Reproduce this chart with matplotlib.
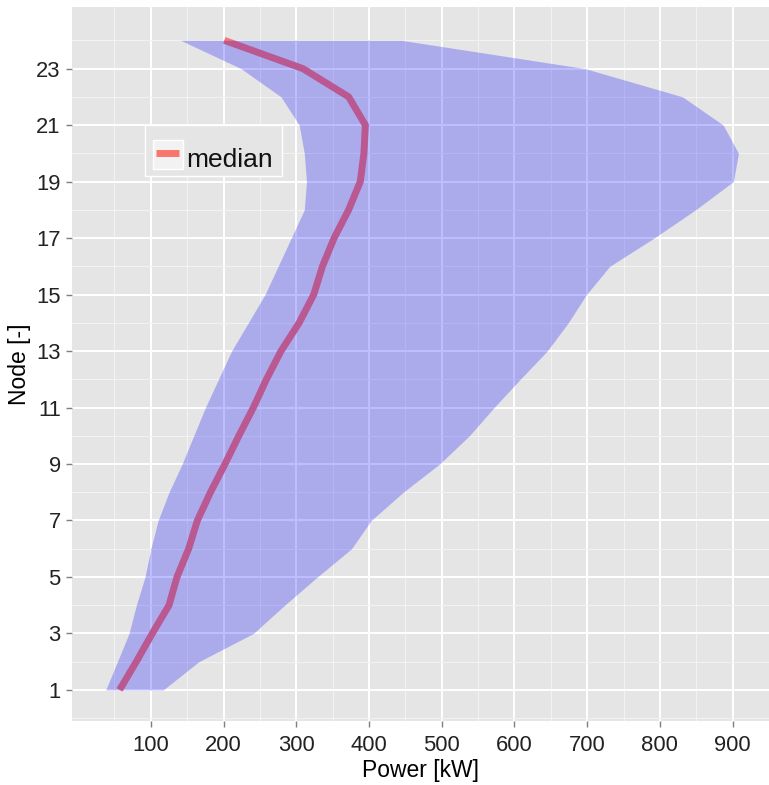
import numpy as np
import matplotlib
matplotlib.use("Agg")
import matplotlib.pyplot as plt
from matplotlib.patches import Rectangle
from matplotlib.lines import Line2D

plt.rcParams['font.family'] = ['Liberation Sans', 'DejaVu Sans']

# power per node [kW]
node = list(range(1, 25))
p_low = [38, 54, 70, 80, 92, 100, 110, 125, 143, 159, 175, 193,
         211, 234, 257, 275, 293, 311, 314, 311, 304, 279, 224, 141]
p_high = [117, 166, 241, 284, 329, 376, 403, 447, 497, 538, 572, 608,
          645, 674, 699, 731, 792, 849, 901, 908, 887, 831, 697, 445]
p_median = [57, 80, 102, 125, 136, 152, 164, 182, 202, 221, 241, 259,
            279, 304, 324, 336, 352, 372, 388, 393, 395, 372, 309, 201]

x_ticks = list(range(100, 1000, 100))
y_ticks = list(range(1, 24, 2))

fig = plt.figure(figsize=(7.69, 7.85), dpi=100)
ax = fig.add_axes([0.094, 0.0815, 0.906, 0.9092])
ax.set_facecolor('#E5E5E5')
for s in ax.spines.values():
    s.set_visible(False)

# median first, ribbon on top of it
ax.plot(p_median, node, color='#F8766D', lw=5, solid_capstyle='butt', zorder=2)
ax.fill_betweenx(node, p_low, p_high, color='blue', alpha=0.25, lw=0, zorder=3)

ax.set_xlim(-8, 940)
ax.set_ylim(-0.1, 25.17)
ax.set_xticks(x_ticks)
ax.set_yticks(y_ticks)
ax.set_xticks(np.arange(50, 1000, 100), minor=True)
ax.set_yticks(np.arange(0, 26, 2), minor=True)
ax.set_axisbelow(True)
ax.grid(which='major', color='white', lw=1.4)
ax.grid(which='minor', color='#F2F2F2', lw=0.8)
ax.tick_params(which='major', length=4.3, width=1, color='#7F7F7F',
               labelsize=15.8, labelcolor='#222222', pad=4)
ax.tick_params(axis='x', pad=6)
ax.tick_params(which='minor', length=0)

ax.set_xlabel('Power [kW]', fontsize=16.5, labelpad=2)
ax.set_ylabel('Node [-]', fontsize=16.5, labelpad=4)

# legend box
tr = ax.transAxes
ax.add_patch(Rectangle((0.1043, 0.764), 0.196, 0.071, transform=tr,
                       fc='#E5E5E5', ec='white', lw=1, zorder=5))
ax.add_patch(Rectangle((0.1163, 0.7734), 0.043, 0.0407, transform=tr,
                       fc='#F2F2F2', ec='white', lw=1, zorder=6))
ax.add_line(Line2D([0.1197, 0.1536], [0.7963, 0.7963], transform=tr,
                   color='#F8766D', lw=5, solid_capstyle='butt', zorder=7))
ax.text(0.1642, 0.7767, 'median', transform=tr, fontsize=19,
        va='baseline', ha='left', color='#111111', zorder=7)

fig.savefig('out.png', dpi=100)
